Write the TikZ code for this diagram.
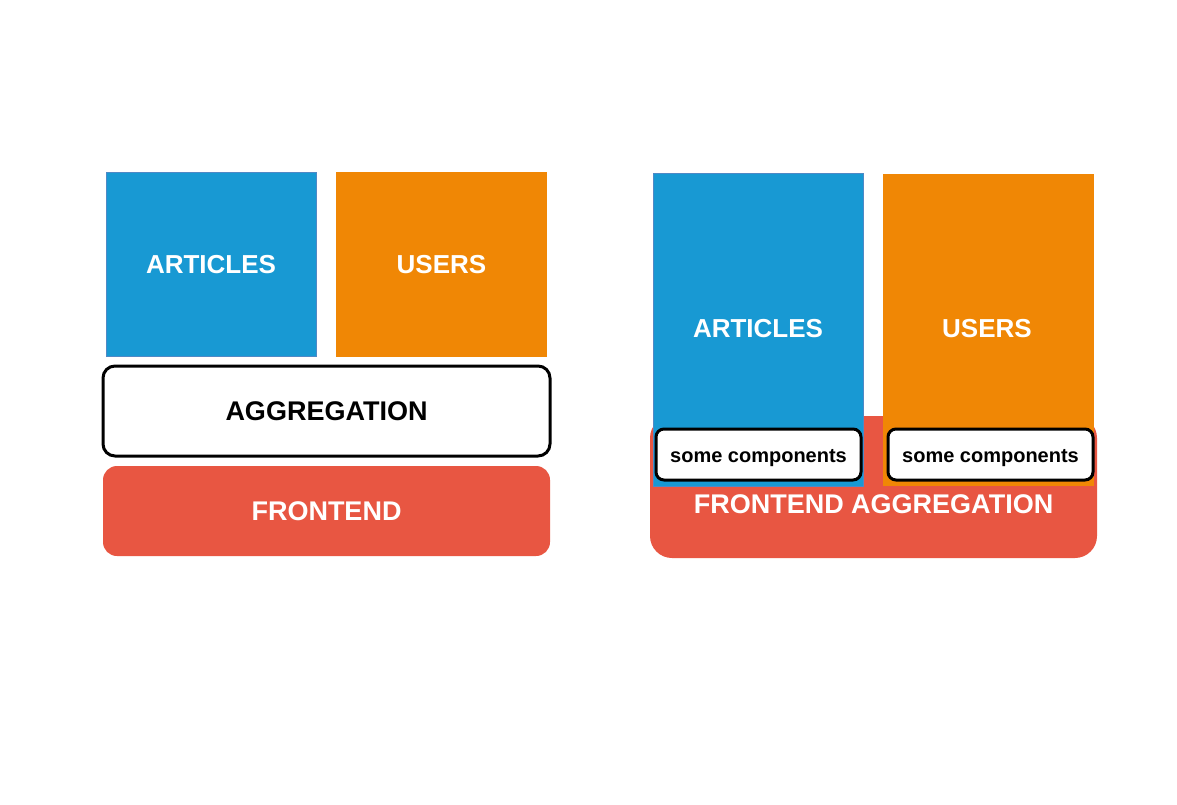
\documentclass[tikz,border=0pt]{standalone}
\usepackage{fontspec}
\setmainfont{Liberation Sans}
\definecolor{artblue}{HTML}{1899D3}
\definecolor{artedge}{HTML}{4F89C6}
\definecolor{usrorange}{HTML}{F08705}
\definecolor{frontred}{HTML}{E85642}
\tikzset{
  base/.style={inner sep=0pt, outer sep=0pt, align=center, font=\bfseries\fontsize{27}{31}\selectfont},
  colfont/.style={font=\bfseries\fontsize{26}{30}\selectfont},
  artbox/.style={base, colfont, rectangle, fill=artblue, draw=artedge, line width=1pt, text=white},
  usrbox/.style={base, colfont, rectangle, fill=usrorange, text=white},
  aggbox/.style={base, rectangle, rounded corners=12pt, fill=white, draw=black, line width=3pt, text=black},
  frontbox/.style={base, rectangle, rounded corners=14pt, fill=frontred, text=white},
  compbox/.style={base, rectangle, rounded corners=8pt, fill=white, draw=black, line width=3pt, text=black, font=\bfseries\fontsize{20}{24}\selectfont, text height=16.4pt, text depth=0pt},
}
\begin{document}
\begin{tikzpicture}[x=1pt,y=-1pt]
\useasboundingbox (0,0) rectangle (1177,805);
% left diagram
\node[artbox, minimum width=210pt, minimum height=184pt] (art1) at (211,264.5) {ARTICLES};
\node[usrbox, minimum width=211pt, minimum height=185pt] (usr1) at (441.5,264.5) {USERS};
\node[aggbox, minimum width=447pt, minimum height=90pt] (agg1) at (326.5,411) {AGGREGATION};
\node[frontbox, minimum width=447pt, minimum height=90pt] (front1) at (326.5,511) {FRONTEND};
% right diagram
\node[frontbox, rounded corners=22pt, minimum width=447pt, minimum height=142pt] (front2) at (873.5,487) {};
\node[artbox, minimum width=210pt, minimum height=312pt] (art2) at (758,330) {};
\node[usrbox, minimum width=211pt, minimum height=312pt] (usr2) at (988.5,330) {};
\node[base, colfont, text=white] (art2t) at (758,329) {ARTICLES};
\node[base, colfont, text=white] (usr2t) at (987,329) {USERS};
\node[base, text=white] (front2t) at (873.5,504) {FRONTEND AGGREGATION};
\node[compbox, minimum width=205pt, minimum height=51pt] (comp1) at (758.5,454.5) {some components};
\node[compbox, minimum width=205pt, minimum height=51pt] (comp2) at (990.5,454.5) {some components};
\end{tikzpicture}
\end{document}
